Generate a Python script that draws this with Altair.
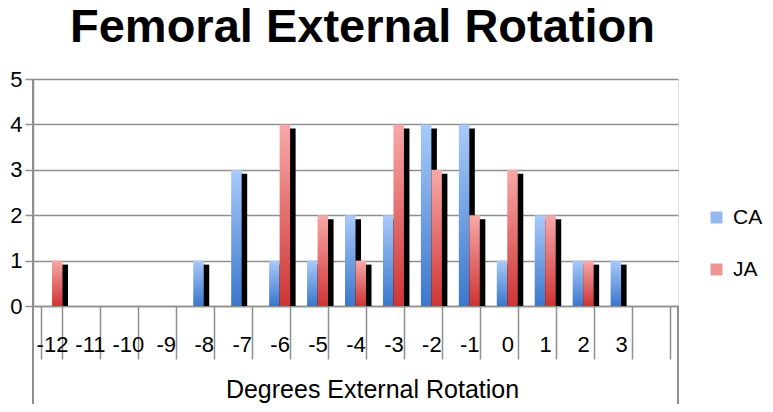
import altair as alt
import pandas as pd

title_text = ["Femoral External Rotation"]
categories = ["-12", "-11", "-10", "-9", "-8", "-7", "-6", "-5", "-4", "-3",
              "-2", "-1", "0", "1", "2", "3", " "]
ca_values = [0, 0, 0, 0, 1, 3, 1, 1, 2, 2, 4, 4, 1, 2, 1, 1]
ja_values = [1, 0, 0, 0, 0, 0, 4, 2, 1, 4, 3, 2, 3, 2, 1, 0]
series = ["CA", "JA"]
legend_colors = ["#6a9be6", "#e56a6a"]

rows = []
for cat, ca, ja in zip(categories, ca_values, ja_values):
    rows.append({"cat": cat, "series": "CA", "value": ca})
    rows.append({"cat": cat, "series": "JA", "value": ja})
df = pd.DataFrame(rows)
df = df[df["value"] > 0]

FONT = "Liberation Sans"
GRID = "#8f8f8f"
W, H = 645, 227

x_enc = alt.X(
    "cat:N",
    sort=categories,
    scale=alt.Scale(domain=categories, paddingInner=0.447, paddingOuter=0.2235),
    axis=alt.Axis(
        title="Degrees External Rotation",
        titleFont=FONT, titleFontSize=25, titleFontWeight="normal",
        titleColor="black", titleX=339, titleY=71, titleBaseline="top",
        titleAlign="center",
        labelFont=FONT, labelFontSize=22, labelColor="black",
        labelAngle=0, labelPadding=-25,
        tickBand="extent", tickSize=53, tickColor=GRID, tickWidth=1.5,
        domainColor=GRID, domainWidth=1.5, grid=False,
    ),
)
y_enc = alt.Y(
    "value:Q",
    scale=alt.Scale(domain=[0, 5], nice=False),
    axis=alt.Axis(
        title=None, values=[0, 1, 2, 3, 4, 5], format="d",
        labelFont=FONT, labelFontSize=22, labelColor="black", labelPadding=3,
        tickSize=8, tickColor=GRID, tickWidth=1.5,
        domainColor=GRID, domainWidth=1.5,
        grid=True, gridColor=GRID, gridWidth=1.5,
    ),
)
xo_enc = alt.XOffset("series:N", scale=alt.Scale(domain=series))

base = alt.Chart(df)

shadow = base.mark_bar(color="black", yOffset=4, clip=True).encode(
    x=x_enc, y=y_enc,
    xOffset=alt.XOffset("series:N", scale=alt.Scale(domain=series, range=[5.5, 26.5])),
)

blue_grad = alt.Gradient(
    gradient="linear", x1=0, x2=0, y1=0, y2=1,
    stops=[alt.GradientStop(color="#a9cafa", offset=0),
           alt.GradientStop(color="#3a77cc", offset=1)],
)
red_grad = alt.Gradient(
    gradient="linear", x1=0, x2=0, y1=0, y2=1,
    stops=[alt.GradientStop(color="#f8a9a9", offset=0),
           alt.GradientStop(color="#cf3434", offset=1)],
)

ca_bars = base.transform_filter(alt.datum.series == "CA").mark_bar(color=blue_grad).encode(
    x=x_enc, y=y_enc, xOffset=xo_enc
)
ja_bars = base.transform_filter(alt.datum.series == "JA").mark_bar(color=red_grad).encode(
    x=x_enc, y=y_enc, xOffset=xo_enc
)

left_line = alt.Chart(df).mark_rule(color=GRID, strokeWidth=1.5).encode(
    x=alt.value(0), y=alt.value(0), y2=alt.value(H + 110)
)
right_line = alt.Chart(df).mark_rule(color=GRID, strokeWidth=1.5).encode(
    x=alt.value(W), y=alt.value(H), y2=alt.value(H + 110)
)

legend_layer = base.mark_square(size=0).encode(
    color=alt.Color(
        "series:N",
        scale=alt.Scale(domain=series, range=legend_colors),
        legend=alt.Legend(
            title=None, orient="none", legendX=673, legendY=128,
            symbolType="square", symbolSize=144, symbolStrokeWidth=0,
            labelFont=FONT, labelFontSize=21, labelColor="black",
            labelOffset=6, rowPadding=30,
        ),
    )
)

title_layer = alt.Chart(pd.DataFrame({"t": title_text})).mark_text(
    font=FONT, fontSize=47, fontWeight="bold", color="black",
    align="center", baseline="alphabetic",
).encode(text="t:N", x=alt.value(W / 2 + 7), y=alt.value(-37))

chart = alt.layer(
    shadow, ca_bars, ja_bars, left_line, right_line, legend_layer, title_layer
).resolve_scale(xOffset="independent").properties(
    width=W, height=H,
    autosize=alt.AutoSizeParams(type="none"),
    padding={"left": 25, "top": 71, "right": 87, "bottom": 98},
).configure_view(stroke=None).configure(background="white")

chart.save("out.html", embed_options={"renderer": "svg", "actions": False})
